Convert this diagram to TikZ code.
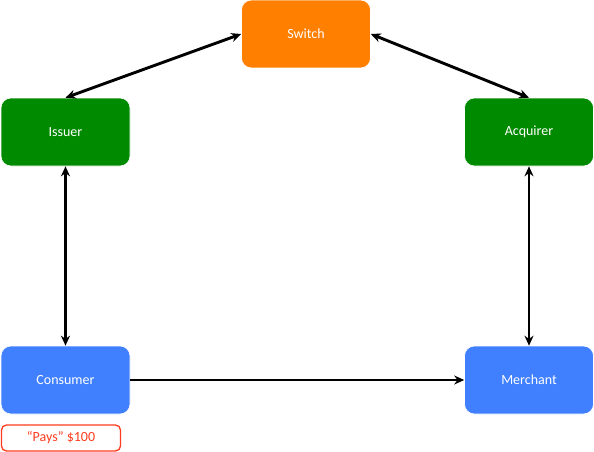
\documentclass[tikz,border=0pt]{standalone}
\usepackage{fontspec}
\setmainfont{Carlito}
\usetikzlibrary{arrows.meta}
\definecolor{cOrange}{HTML}{FF8000}
\definecolor{cGreen}{HTML}{008A00}
\definecolor{cBlue}{HTML}{4080FF}
\definecolor{cRed}{HTML}{FF3B1F}
\tikzset{
  box/.style={rounded corners=10pt, minimum width=129pt, minimum height=68pt, inner sep=0pt, text=white, font=\fontsize{14}{16}\selectfont, draw=white, line width=0.6pt},
  conn/.style={line width=2.9pt, {Stealth[length=10pt,width=9pt]}-{Stealth[length=10pt,width=9pt]}},
  conn1/.style={line width=2.9pt, -{Stealth[length=10pt,width=9pt]}},
}
\begin{document}
\begin{tikzpicture}[x=1pt,y=-1pt]
\useasboundingbox (0,0) rectangle (594,452);
\node[box, fill=cOrange] (switch) at (306,34) {Switch};
\node[box, fill=cGreen] (issuer) at (65.5,132) {Issuer};
\node[box, fill=cGreen] (acquirer) at (529,132) {Acquirer};
\node[box, fill=cBlue] (consumer) at (65.5,380) {Consumer};
\node[box, fill=cBlue] (merchant) at (529,380) {Merchant};
\node[draw=cRed, line width=1.3pt, rounded corners=5pt, minimum width=119pt, minimum height=26pt, inner sep=0pt, text=cRed, font=\fontsize{14}{16}\selectfont] (pays) at (61,438) {“Pays” \$100};
\draw[conn] (issuer.north) -- (switch.west);
\draw[conn] (switch.east) -- (acquirer.north);
\draw[conn] (issuer.south) -- (consumer.north);
\draw[conn] (acquirer.south) -- (merchant.north);
\draw[conn1] (consumer.east) -- (merchant.west);
\end{tikzpicture}
\end{document}
